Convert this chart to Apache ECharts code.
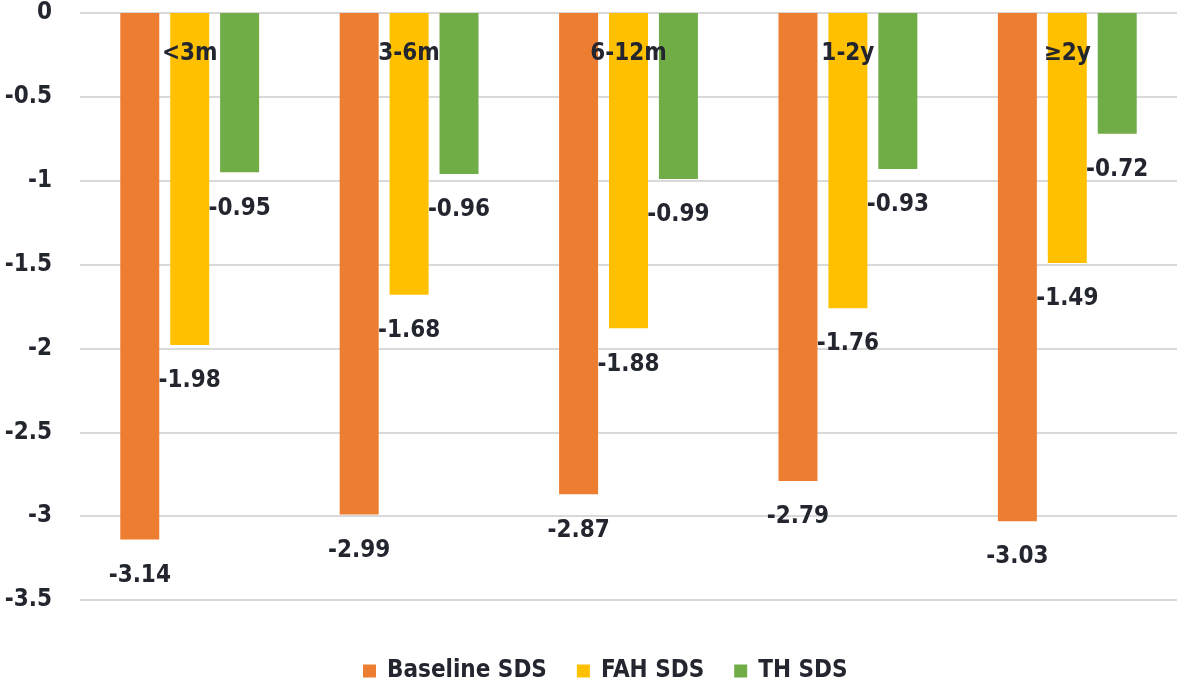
<!DOCTYPE html>
<html>
<head>
<meta charset="utf-8">
<script src="https://cdn.jsdelivr.net/npm/echarts@6/dist/echarts.min.js"></script>
<style>html,body{margin:0;padding:0;background:#fff}#c{width:1181px;height:679px}</style>
</head>
<body>
<div id="c"></div>
<script>
const categories = ['<3m', '3-6m', '6-12m', '1-2y', '≥2y'];
const baselineSDS = [-3.14, -2.99, -2.87, -2.79, -3.03];
const fahSDS = [-1.98, -1.68, -1.88, -1.76, -1.49];
const thSDS = [-0.95, -0.96, -0.99, -0.93, -0.72];
const seriesNames = ['Baseline SDS', 'FAH SDS', 'TH SDS'];

const FONT = '"DejaVu Sans Condensed", "DejaVu Sans", sans-serif';
const TXT = '#23262e';
const chart = echarts.init(document.getElementById('c'));
const lbl = {
  show: true, position: 'outside', distance: 24,
  fontFamily: FONT, fontWeight: 'bold', fontSize: 24, color: TXT
};
function bar(name, data, color) {
  return { name, type: 'bar', data, barWidth: 39, barGap: '28%',
    itemStyle: { color }, label: lbl };
}
chart.setOption({
  animation: false,
  backgroundColor: '#fff',
  grid: { left: 80, right: 4, top: 13, bottom: 79 },
  legend: {
    left: 358, bottom: 0, top: 654, itemWidth: 13, itemHeight: 13, itemGap: 30,
    icon: 'rect',
    textStyle: { fontFamily: FONT, fontWeight: 'bold', fontSize: 24, color: TXT, padding: [0, 0, 0, 6] }
  },
  xAxis: {
    type: 'category', data: categories, position: 'top',
    axisLine: { show: false }, axisTick: { show: false },
    axisLabel: { inside: true, margin: 29, fontFamily: FONT, fontWeight: 'bold', fontSize: 24, color: TXT },
    z: 10
  },
  yAxis: {
    type: 'value', min: -3.5, max: 0, interval: 0.5,
    axisLine: { show: false }, axisTick: { show: false },
    axisLabel: { margin: 28, fontFamily: FONT, fontWeight: 'bold', fontSize: 24, color: TXT },
    splitLine: { lineStyle: { color: '#d9d9d9', width: 2 } }
  },
  series: [
    bar(seriesNames[0], baselineSDS, '#ED7D31'),
    bar(seriesNames[1], fahSDS, '#FFC000'),
    bar(seriesNames[2], thSDS, '#70AD47')
  ]
});
</script>
</body>
</html>
